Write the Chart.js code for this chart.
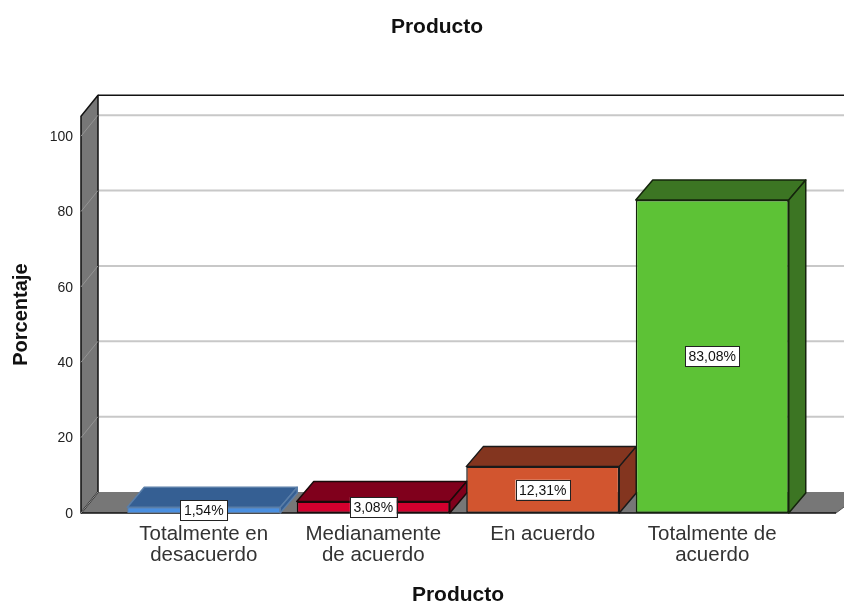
<!DOCTYPE html>
<html><head><meta charset="utf-8">
<script src="https://cdn.jsdelivr.net/npm/chart.js@4"></script>
<style>html,body{margin:0;padding:0;background:#fff}canvas{display:block}</style>
</head><body><canvas id="c" width="844" height="602"></canvas>
<script>
const categories = [["Totalmente en","desacuerdo"],["Medianamente","de acuerdo"],["En acuerdo"],["Totalmente de","acuerdo"]];
const values = [1.54, 3.08, 12.31, 83.08];
const yTicks = [0, 20, 40, 60, 80, 100];
const frontColors = ["#4a8fe0","#d4002e","#d2552f","#5dc236"];
const depthColors = ["#355f93","#80001c","#83351f","#3c7523"];
const edgeColors = ["#5a7ea8","#1a0a0a","#1a1a1a","#14240c"];
const edgeWidths = [1, 1.5, 1.5, 1.5];
const font = "Liberation Sans, Arial, sans-serif";
const DX = 17, DY = -21, BAR_DY = -20;
const WALL = "#777777", GRID = "#c8c8c8", INK = "#111111";

function poly(ctx, pts, fill, stroke, lw) {
  ctx.beginPath();
  pts.forEach((p, i) => i ? ctx.lineTo(p[0], p[1]) : ctx.moveTo(p[0], p[1]));
  ctx.closePath();
  if (fill) { ctx.fillStyle = fill; ctx.fill(); }
  if (stroke) { ctx.strokeStyle = stroke; ctx.lineWidth = lw || 1.5; ctx.lineJoin = "round"; ctx.stroke(); }
}

const frame = {
  id: "frame",
  afterLayout(chart) { chart.titleBlock.left = 77; },
  beforeDatasetsDraw(chart) {
    const { ctx, scales: { y }, width } = chart;
    const x0 = 81, y0 = y.getPixelForValue(0), yT = y.top;
    ctx.save();
    // floor
    poly(ctx, [[x0, y0], [x0 + DX, y0 + DY], [width + 20, y0 + DY], [836, y0]], WALL);
    ctx.strokeStyle = INK; ctx.lineWidth = 1.5;
    ctx.beginPath(); ctx.moveTo(x0, y0); ctx.lineTo(836, y0); ctx.stroke();
    ctx.strokeStyle = "#555"; ctx.lineWidth = 1;
    ctx.beginPath(); ctx.moveTo(836, y0); ctx.lineTo(width + 20, y0 + DY); ctx.stroke();
    // gridlines on back plane
    yTicks.forEach(v => {
      if (v === 0) return;
      const p = y.getPixelForValue(v);
      ctx.strokeStyle = GRID; ctx.lineWidth = 2;
      ctx.beginPath(); ctx.moveTo(x0 + DX, p + DY); ctx.lineTo(width, p + DY); ctx.stroke();
    });
    // left wall
    poly(ctx, [[x0, y0], [x0 + DX, y0 + DY], [x0 + DX, yT + DY], [x0, yT]], WALL, INK, 1.5);
    yTicks.forEach(v => {
      const p = y.getPixelForValue(v);
      ctx.strokeStyle = "#949494"; ctx.lineWidth = 1;
      ctx.beginPath(); ctx.moveTo(x0, p); ctx.lineTo(x0 + DX, p + DY); ctx.stroke();
    });
    // top edge
    ctx.strokeStyle = INK; ctx.lineWidth = 1.5;
    ctx.beginPath(); ctx.moveTo(x0 + DX, yT + DY); ctx.lineTo(width, yT + DY); ctx.stroke();
    // bar depth faces
    chart.getDatasetMeta(0).data.forEach((b, i) => {
      const l = b.x - b.width / 2, r = b.x + b.width / 2, t = b.y, bt = b.base;
      poly(ctx, [[l, t], [l + DX, t + BAR_DY], [r + DX, t + BAR_DY], [r, t]], depthColors[i], edgeColors[i], 1.5);
      poly(ctx, [[r, t], [r + DX, t + BAR_DY], [r + DX, bt + BAR_DY], [r, bt]], depthColors[i], edgeColors[i], 1.5);
    });
    ctx.restore();
  },
  afterDatasetsDraw(chart) {
    const { ctx } = chart;
    ctx.save();
    ctx.font = "14px " + font;
    ctx.textAlign = "center"; ctx.textBaseline = "middle";
    chart.getDatasetMeta(0).data.forEach((b, i) => {
      const s = values[i].toFixed(2).replace(".", ",") + "%";
      const w = ctx.measureText(s).width + 7, h = 20, cy = (b.y + b.base) / 2;
      ctx.fillStyle = "#fff"; ctx.strokeStyle = "#222"; ctx.lineWidth = 1;
      ctx.shadowColor = "rgba(0,0,0,.35)"; ctx.shadowBlur = 1; ctx.shadowOffsetX = 1; ctx.shadowOffsetY = 1;
      ctx.fillRect(b.x - w / 2, cy - h / 2, w, h);
      ctx.shadowColor = "transparent";
      ctx.strokeRect(Math.round(b.x - w / 2) + .5, Math.round(cy - h / 2) + .5, Math.round(w), h);
      ctx.fillStyle = "#111";
      ctx.fillText(s, b.x, cy + 1);
    });
    ctx.restore();
  }
};

new Chart(document.getElementById("c"), {
  type: "bar",
  data: {
    labels: categories,
    datasets: [{
      data: values,
      backgroundColor: frontColors,
      borderColor: edgeColors,
      borderWidth: edgeWidths,
      borderSkipped: false,
      barPercentage: 0.9027,
      categoryPercentage: 1
    }]
  },
  plugins: [frame],
  options: {
    responsive: false,
    animation: false,
    devicePixelRatio: 1,
    layout: { padding: { left: 0, right: 47, top: 0, bottom: 0 } },
    plugins: {
      legend: { display: false },
      tooltip: { enabled: false },
      title: {
        display: true, text: "Producto", color: "#111",
        font: { family: font, size: 21, weight: "bold", lineHeight: 1.2 },
        padding: { top: 15, bottom: 76 }
      }
    },
    scales: {
      x: {
        grid: { display: false },
        border: { display: false },
        ticks: { color: "#333", font: { family: font, size: 20.5, lineHeight: 1.03 }, padding: 3, maxRotation: 0, autoSkip: false },
        title: {
          display: true, text: "Producto", color: "#111",
          font: { family: font, size: 21, weight: "bold", lineHeight: 1 },
          padding: { top: 0, bottom: -4 }
        },
        afterFit(s) { s.height = 89; }
      },
      y: {
        min: 0, max: 105.3,
        grid: { display: false },
        border: { display: false },
        ticks: {
          color: "#222", font: { family: font, size: 14 }, padding: 38, labelOffset: 1,
          stepSize: 20, callback: v => yTicks.includes(v) ? String(v) : ""
        },
        title: {
          display: true, text: "Porcentaje", color: "#111",
          font: { family: font, size: 20, weight: "bold", lineHeight: 1.2 },
          padding: { top: 9, bottom: 0 }
        },
        afterFit(s) { s.width = 119; }
      }
    }
  }
});
</script>
</body></html>
